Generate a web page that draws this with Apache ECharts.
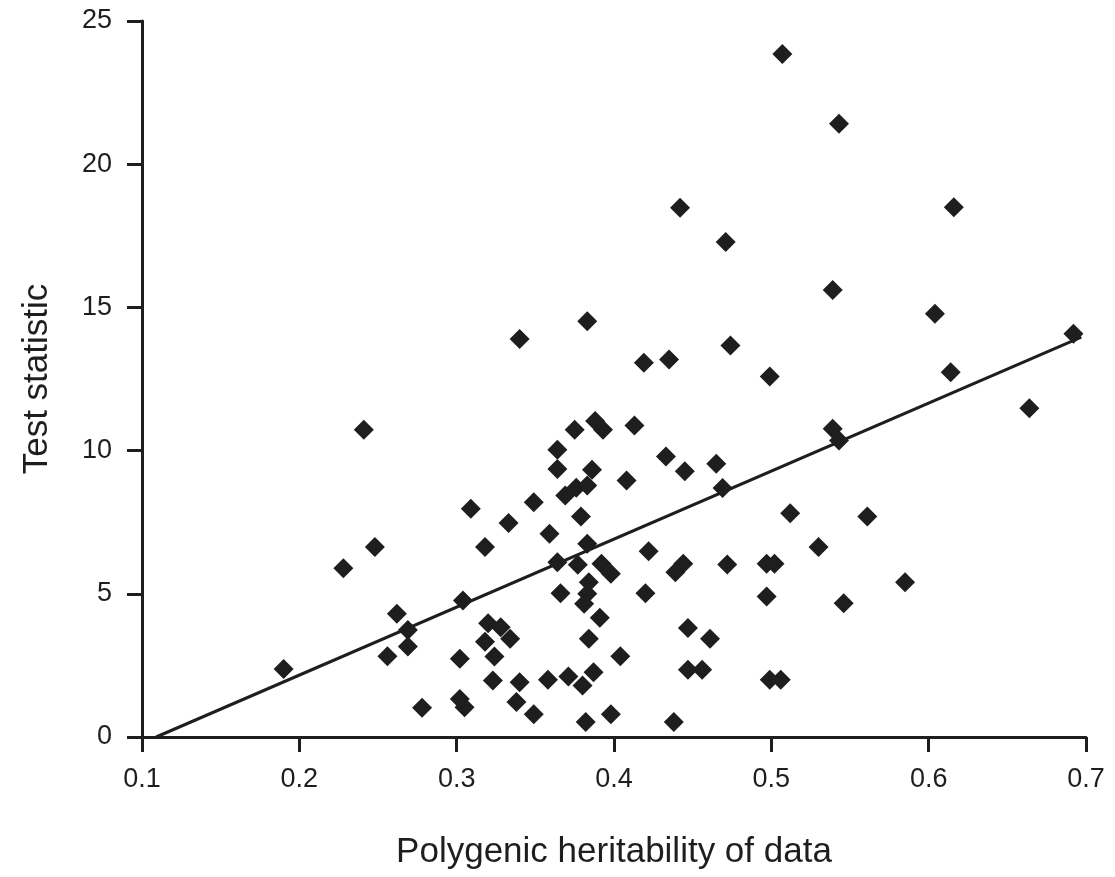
<!DOCTYPE html>
<html>
<head>
<meta charset="utf-8">
<script src="https://cdn.jsdelivr.net/npm/echarts@6/dist/echarts.min.js"></script>
<style>
html,body{margin:0;padding:0;background:#fff;}
#chart{width:1115px;height:877px;}
</style>
</head>
<body>
<div id="chart"></div>
<script>
// Polygenic heritability (x) of each simulated data set
var heritability = [
  0.507, 0.543, 0.616, 0.442, 0.471, 0.539, 0.604, 0.383, 0.340, 0.692,
  0.419, 0.435, 0.474, 0.614, 0.499, 0.664, 0.539, 0.543, 0.512, 0.561,
  0.530, 0.497, 0.502, 0.497, 0.546, 0.585, 0.499, 0.506, 0.241, 0.248,
  0.228, 0.262, 0.269, 0.269, 0.256, 0.190, 0.278, 0.375, 0.388, 0.393,
  0.413, 0.364, 0.364, 0.386, 0.433, 0.445, 0.465, 0.408, 0.469, 0.369,
  0.376, 0.383, 0.309, 0.349, 0.333, 0.379, 0.359, 0.318, 0.383, 0.364,
  0.377, 0.392, 0.398, 0.422, 0.444, 0.439, 0.472, 0.304, 0.366, 0.384,
  0.383, 0.381, 0.420, 0.391, 0.320, 0.328, 0.334, 0.318, 0.324, 0.302,
  0.384, 0.447, 0.461, 0.404, 0.323, 0.340, 0.358, 0.371, 0.380, 0.387,
  0.447, 0.456, 0.302, 0.305, 0.338, 0.349, 0.398, 0.382, 0.438
];
// Test statistic (y) for the same data sets
var testStatistic = [
  23.85, 21.41, 18.50, 18.48, 17.28, 15.61, 14.78, 14.52, 13.90, 14.08,
  13.07, 13.18, 13.67, 12.74, 12.59, 11.48, 10.76, 10.35, 7.81, 7.70,
  6.63, 6.05, 6.05, 4.91, 4.67, 5.40, 2.00, 2.00, 10.73, 6.63,
  5.89, 4.30, 3.74, 3.16, 2.82, 2.37, 1.02, 10.73, 11.03, 10.73,
  10.88, 10.03, 9.36, 9.33, 9.79, 9.28, 9.54, 8.96, 8.69, 8.43,
  8.70, 8.78, 7.97, 8.20, 7.47, 7.70, 7.10, 6.63, 6.75, 6.10,
  6.01, 6.05, 5.70, 6.49, 6.05, 5.75, 6.02, 4.77, 5.02, 5.40,
  5.00, 4.65, 5.02, 4.16, 3.97, 3.83, 3.43, 3.33, 2.81, 2.73,
  3.43, 3.81, 3.43, 2.82, 1.97, 1.91, 2.00, 2.11, 1.80, 2.26,
  2.35, 2.35, 1.33, 1.04, 1.22, 0.79, 0.79, 0.52, 0.52
];
// Fitted regression line end points
var fitX = [0.109, 0.697];
var fitY = [0, 13.96];

var xTicks = ['0.1', '0.2', '0.3', '0.4', '0.5', '0.6', '0.7'];
var yTicks = ['0', '5', '10', '15', '20', '25'];

var points = heritability.map(function (h, i) { return [h, testStatistic[i]]; });
var fitLine = fitX.map(function (h, i) { return [h, fitY[i]]; });

var ink = '#1e1e1e';
var font = '"Liberation Sans", Arial, Helvetica, sans-serif';

var chart = echarts.init(document.getElementById('chart'), null, {renderer: 'canvas'});
chart.setOption({
  animation: false,
  backgroundColor: '#fff',
  grid: {left: 142, right: 29, top: 21, bottom: 140, containLabel: false},
  xAxis: {
    type: 'value', min: 0.1, max: 0.7, interval: 0.1,
    name: 'Polygenic heritability of data',
    nameLocation: 'middle', nameGap: 98,
    nameTextStyle: {fontFamily: font, fontSize: 35, color: ink},
    axisLine: {show: true, onZero: false, lineStyle: {color: ink, width: 3}},
    axisTick: {show: true, inside: false, length: 15, lineStyle: {color: ink, width: 3}},
    axisLabel: {
      margin: 29, fontFamily: font, fontSize: 27, color: ink,
      formatter: function (v) { return xTicks[Math.round((v - 0.1) * 10)]; }
    },
    splitLine: {show: false}
  },
  yAxis: {
    type: 'value', min: 0, max: 25, interval: 5,
    name: 'Test statistic',
    nameLocation: 'middle', nameGap: 87, nameRotate: 90,
    nameTextStyle: {fontFamily: font, fontSize: 35, color: ink},
    axisLine: {show: true, lineStyle: {color: ink, width: 3}},
    axisTick: {show: true, inside: false, length: 15, lineStyle: {color: ink, width: 3}},
    axisLabel: {
      margin: 30, fontFamily: font, fontSize: 27, color: ink,
      formatter: function (v) { return yTicks[Math.round(v / 5)]; }
    },
    splitLine: {show: false}
  },
  series: [
    {
      type: 'line', data: fitLine, symbol: 'none', silent: true,
      lineStyle: {color: ink, width: 3}, z: 2
    },
    {
      type: 'scatter', data: points, symbol: 'diamond', symbolSize: 20,
      itemStyle: {color: ink, opacity: 1}, z: 3
    }
  ]
});
</script>
</body>
</html>
